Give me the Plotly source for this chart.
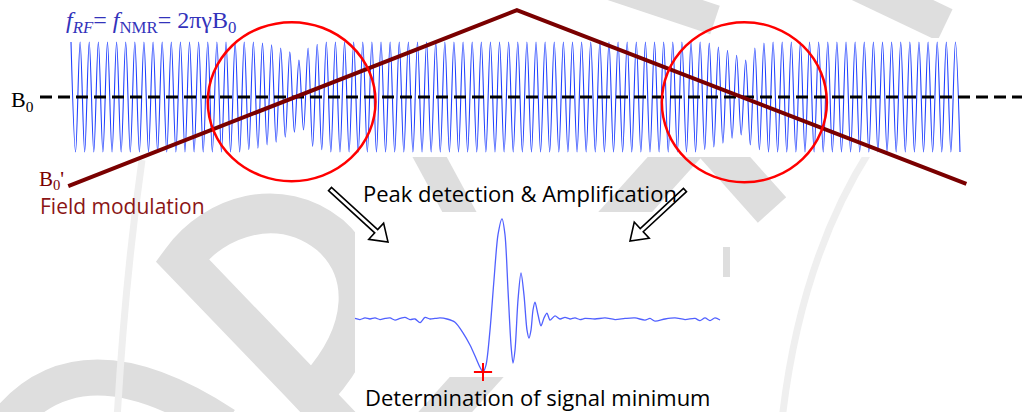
import plotly.graph_objects as go

# ---------------- data ----------------
# RF carrier: number of cycles and per-cycle peak / trough amplitudes (normal = 1.0)
rf_cycles = 98
rf_top_dips = {21: 0.98, 22: 0.95, 23: 0.89, 24: 0.82, 25: 0.67, 26: 0.89, 27: 0.96,
               70: 0.98, 71: 0.91, 72: 0.85, 73: 0.76, 74: 0.67, 75: 0.89, 76: 0.98}
rf_bottom_dips = {19: 0.96, 20: 0.93, 21: 0.87, 22: 0.82, 23: 0.73, 24: 0.64, 25: 0.60, 26: 0.90, 27: 0.96,
                  69: 0.96, 70: 0.91, 71: 0.84, 72: 0.75, 73: 0.69, 74: 0.87, 75: 0.96}

# Field modulation (triangle sweep) in carrier-cycle time and field units
mod_t = [-0.3, 48.9, 98.2]
mod_b = [-1.62, 1.58, -1.58]

# B0 reference level
b0_t = [-3.4, 104.3]
b0_level = [0.0, 0.0]

# Resonance regions (circles) in carrier time / field units
res_t0 = [15.0, 64.8]
res_t1 = [33.4, 82.9]
res_b0 = [-1.53, -1.55]
res_b1 = [1.36, 1.36]

# Detected NMR signal (time a.u., amplitude normalised to minimum = -1)
sig_t = [0, 5, 10, 15, 20, 25, 30, 35, 40, 45, 50, 55, 60, 65, 70, 75, 80, 85, 92,
         100, 108, 115, 121, 125, 128, 131, 135, 139, 143, 147, 150, 153, 156, 158, 160,
         163, 166, 169, 172, 174, 176, 178, 180, 183, 186, 189, 192, 195,
         200, 205, 210, 215, 220, 225, 230, 240, 250, 260, 270, 280, 290, 295, 300,
         310, 320, 330, 340, 345, 350, 355, 360, 365]
sig_v = [0.01, -0.01, 0.02, 0.0, 0.02, -0.01, 0.01, 0.02, -0.02, 0.01, 0.03, -0.01, 0.0, -0.07, 0.03, 0.0, 0.01, 0.02, 0.0,
         -0.06, -0.26, -0.49, -0.74, -0.91, -1.0, -0.87, -0.21, 0.74, 1.59, 1.89, 1.59, 0.55, -0.49, -0.83, -0.59,
         0.36, 0.87, 0.45, -0.21, -0.36, -0.21, 0.17, 0.32, 0.08, -0.13, 0.02, 0.11, -0.02,
         0.06, 0.0, 0.03, 0.0, 0.02, -0.01, 0.01, 0.0, 0.02, -0.01, 0.01, 0.02, -0.02, 0.01, -0.04,
         0.0, 0.02, -0.01, 0.01, -0.03, 0.02, -0.03, 0.02, -0.02]
sig_min_t = [128]
sig_min_v = [-1.0]

# Texts
title_text = "<i>f</i><sub><i>RF</i></sub>= <i>f</i><sub>NMR</sub>= 2πγB<sub>0</sub>"
b0_text = "B<sub>0</sub>"
b0p_text = "B<sub>0</sub>'"
mod_text = "Field modulation"
peak_text = "Peak detection & Amplification"
min_text = "Determination of signal minimum"

# ---------------- layout helpers ----------------
W, H = 1022, 412


def X(px):
    return px / W


def Y(py):
    return 1 - py / H


def axis_range(p0, v0, p1, v1, total):
    s = (v1 - v0) / (p1 - p0)
    return [v0 - p0 * s, v0 + (total - p0) * s]


# build carrier extremes from the per-cycle amplitudes
wave_t, wave_v = [], []
for k in range(rf_cycles):
    wave_t += [k, k + 0.5]
    wave_v += [rf_top_dips.get(k, 1.0), -rf_bottom_dips.get(k, 1.0)]

fig = go.Figure()

fig.add_trace(go.Scatter(x=wave_t, y=wave_v, mode="lines", line=dict(color="#2040ff", width=1.1, shape="spline"),
                         hoverinfo="skip", showlegend=False))
fig.add_trace(go.Scatter(x=b0_t, y=b0_level, mode="lines", line=dict(color="black", width=3.2, dash="12px,6px"),
                         hoverinfo="skip", showlegend=False))
fig.add_trace(go.Scatter(x=mod_t, y=mod_b, mode="lines", line=dict(color="#7a0000", width=4),
                         hoverinfo="skip", showlegend=False))

fig.add_trace(go.Scatter(x=sig_t, y=sig_v, mode="lines", xaxis="x2", yaxis="y2",
                         line=dict(color="#5060ff", width=1.3, shape="spline", smoothing=0.8),
                         hoverinfo="skip", showlegend=False))
fig.add_trace(go.Scatter(x=sig_min_t, y=sig_min_v, mode="markers", xaxis="x2", yaxis="y2",
                         marker=dict(symbol="cross-thin", size=13, line=dict(color="red", width=2)),
                         hoverinfo="skip", showlegend=False))

shapes = []
wm = "#dedede"


def wm_path(d, width, color=wm):
    shapes.append(dict(type="path", path=d, xref="paper", yref="paper", layer="below",
                       line=dict(color=color, width=width), fillcolor="rgba(0,0,0,0)"))


def P(pts, close=False):
    s = ""
    for i, (a, b) in enumerate(pts):
        s += ("M" if i == 0 else "L") + f"{X(a):.5f},{Y(b):.5f} "
    return s + ("Z" if close else "")


def C(start, segs, close=False):
    s = f"M{X(start[0]):.5f},{Y(start[1]):.5f} "
    for (c1, c2, e) in segs:
        s += f"C{X(c1[0]):.5f},{Y(c1[1]):.5f} {X(c2[0]):.5f},{Y(c2[1]):.5f} {X(e[0]):.5f},{Y(e[1]):.5f} "
    return s + ("Z" if close else "")


# watermark (background)
wm_path(C((345, 430), [((290, 372), (230, 310), (182, 260)), ((215, 215), (280, 195), (330, 235)),
                       ((370, 270), (370, 330), (318, 388))]), 40)
wm_path(f"M{X(5):.5f},{Y(425):.5f} Q{X(80):.5f},{Y(330):.5f} {X(225):.5f},{Y(425):.5f}", 36)
wm_path(P([(690, 118), (772, 210)]), 38)
wm_path(P([(690, 140), (420, 440)]), 40)
wm_path(P([(700, 262), (730, 262)]), 30)
wm_path(P([(415, 130), (480, 250)]), 30)
wm_path(P([(610, -15), (715, 20)]), 30)
wm_path(P([(840, -25), (945, 25)]), 35)
wm_path(f"M{X(142):.5f},{Y(160):.5f} Q{X(125):.5f},{Y(280):.5f} {X(117):.5f},{Y(420):.5f}", 7, "#efefef")
wm_path(f"M{X(870):.5f},{Y(150):.5f} Q{X(800):.5f},{Y(260):.5f} {X(782):.5f},{Y(420):.5f}", 7, "#efefef")

# white panels behind the two signals
for (a, b, c, d) in [(68, 38, 970, 157), (355, 212, 723, 377)]:
    shapes.append(dict(type="rect", xref="paper", yref="paper", x0=X(a), x1=X(c), y0=Y(d), y1=Y(b),
                       layer="below", line=dict(width=0), fillcolor="white"))

# resonance circles
for i in range(2):
    shapes.append(dict(type="circle", xref="x", yref="y", x0=res_t0[i], x1=res_t1[i], y0=res_b0[i], y1=res_b1[i],
                       line=dict(color="red", width=2.5), layer="above"))


# hollow arrows
def arrow(tail, tip, w=2.2, Wd=11, L=16):
    import math
    dx, dy = tip[0] - tail[0], tip[1] - tail[1]
    n = math.hypot(dx, dy)
    ux, uy = dx / n, dy / n
    nx, ny = -uy, ux
    bx, by = tip[0] - ux * L, tip[1] - uy * L
    pts = [(tail[0] + nx * w, tail[1] + ny * w), (bx + nx * w, by + ny * w), (bx + nx * Wd, by + ny * Wd), tip,
           (bx - nx * Wd, by - ny * Wd), (bx - nx * w, by - ny * w), (tail[0] - nx * w, tail[1] - ny * w)]
    shapes.append(dict(type="path", path=P(pts, True), xref="paper", yref="paper", layer="above",
                       line=dict(color="black", width=1.6), fillcolor="white"))


arrow((330, 189), (388, 242))
arrow((685, 190), (630, 241))

ann = []


def text(t, px, py, size, color, family, xanchor="center"):
    ann.append(dict(text=t, x=X(px), y=Y(py), xref="paper", yref="paper", showarrow=False,
                    xanchor=xanchor, yanchor="middle", font=dict(size=size, color=color, family=family)))


serif = "Liberation Serif"
sans = "Open Sans"
text(title_text, 151, 22, 24, "#3333bb", serif)
text(b0_text, 22, 101, 22, "black", serif)
text(b0p_text, 51, 180, 21, "#7a0000", serif)
text(mod_text, 122, 206, 21, "#8b1515", sans)
text(peak_text, 520, 193, 22, "black", sans)
text(min_text, 538, 397, 22, "black", sans)

fig.update_layout(
    width=W, height=H, margin=dict(l=0, r=0, t=0, b=0),
    paper_bgcolor="white", plot_bgcolor="rgba(0,0,0,0)",
    xaxis=dict(domain=[0, 1], range=axis_range(71, 0, 960, 97.5, W), visible=False, fixedrange=True),
    yaxis=dict(domain=[0, 1], range=[-(H - 97) / 55, 97 / 55], visible=False, fixedrange=True),
    xaxis2=dict(domain=[0, 1], range=axis_range(355, 0, 720, 365, W), overlaying="x", anchor="y2",
                visible=False, fixedrange=True),
    yaxis2=dict(domain=[0, 1], range=[-(H - 319) / 53, 319 / 53], overlaying="y", anchor="x2",
                visible=False, fixedrange=True),
    shapes=shapes, annotations=ann, showlegend=False,
)

fig.write_html("out.html", config={"displayModeBar": False})
